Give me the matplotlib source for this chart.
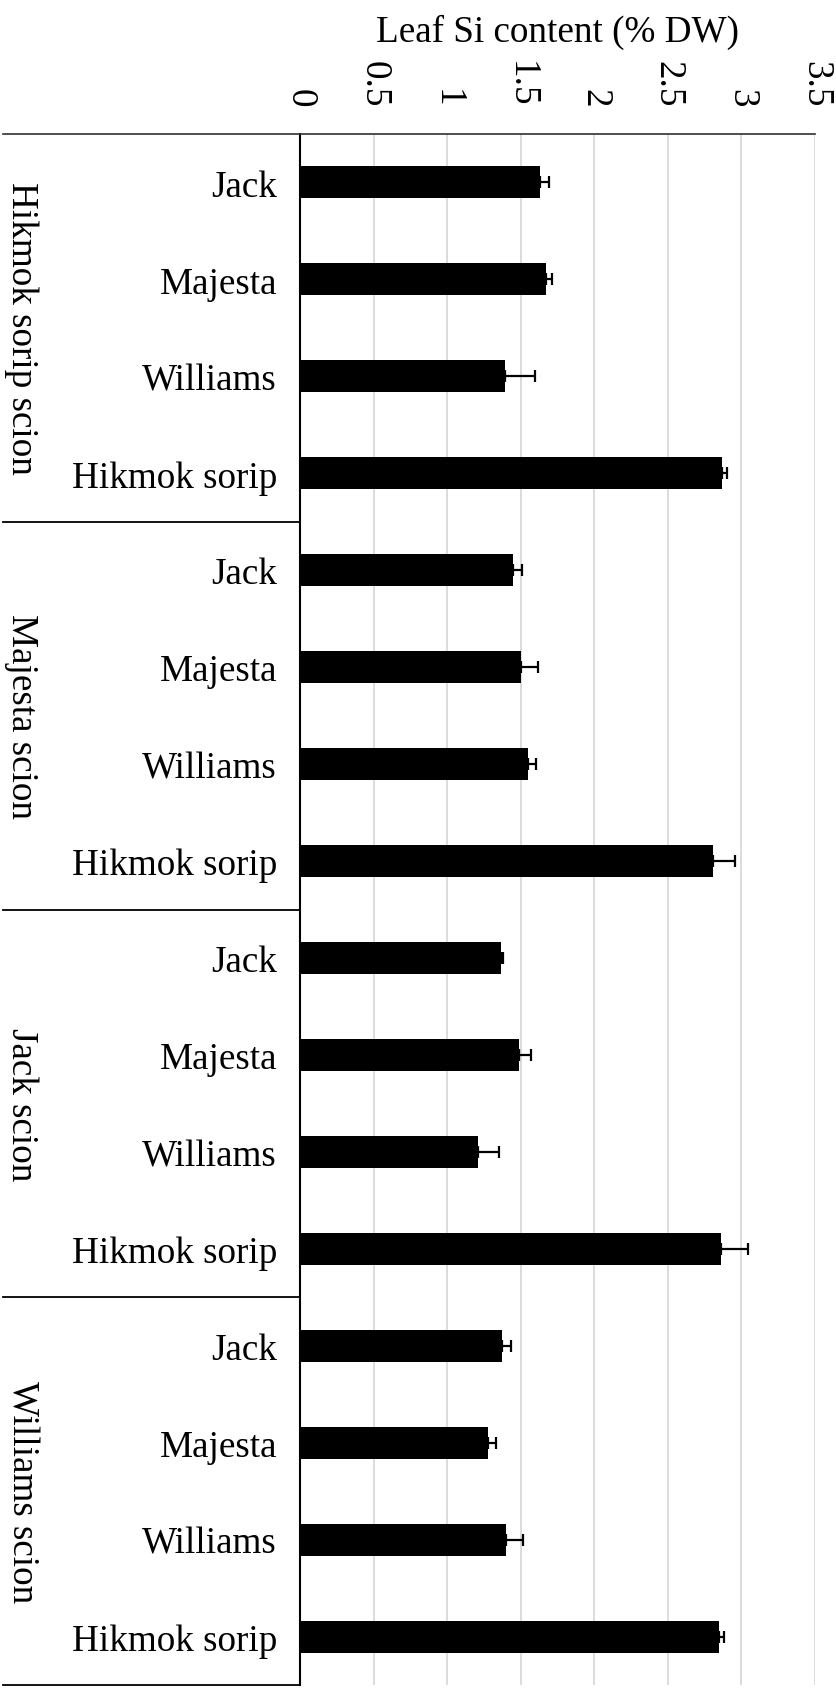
import numpy as np
import matplotlib
matplotlib.use("Agg")
import matplotlib.pyplot as plt

plt.rcParams['font.family'] = ['Liberation Serif', 'DejaVu Serif']

# rootstock cultivars within each scion group, top to bottom
rootstocks = ["Jack", "Majesta", "Williams", "Hikmok sorip"]
scions = ["Hikmok sorip scion", "Majesta scion", "Jack scion", "Williams scion"]

# leaf Si content (% DW), one row per scion, columns follow rootstocks
si_mean = [
    [1.63, 1.67, 1.39, 2.87],
    [1.445, 1.50, 1.55, 2.81],
    [1.365, 1.49, 1.21, 2.86],
    [1.37, 1.28, 1.40, 2.85],
]
si_err = [
    [0.06, 0.04, 0.21, 0.03],
    [0.065, 0.115, 0.057, 0.143],
    [0.012, 0.077, 0.14, 0.188],
    [0.063, 0.052, 0.113, 0.034],
]
xticks = [0, 0.5, 1, 1.5, 2, 2.5, 3, 3.5]
xtick_labels = ["0", "0.5", "1", "1.5", "2", "2.5", "3", "3.5"]

vals = np.array(si_mean).ravel()
errs = np.array(si_err).ravel()
labels = rootstocks * len(scions)
ypos = np.arange(len(vals))

W, H = 836, 1690
fig = plt.figure(figsize=(W / 100, H / 100), dpi=100)
ax = fig.add_axes([300 / W, 1 - 1686 / H, 515 / W, (1686 - 135) / H])

ax.barh(ypos, vals, height=0.33, color="black", zorder=3)
ax.errorbar(vals, ypos, xerr=[np.zeros_like(errs), errs], fmt="none",
            ecolor="black", elinewidth=1.6, capsize=4.3, capthick=1.6, zorder=4)

ax.set_xlim(0, 3.5)
ax.set_ylim(len(vals) - 0.5, -0.5)

ax.set_xticks(xticks)
ax.set_xticklabels(xtick_labels, rotation=-90)
ax.xaxis.tick_top()
ax.tick_params(axis="x", length=0, pad=20, labelsize=26.7)
ax.grid(axis="x", color="#d9d9d9", linewidth=1.3, zorder=0)

ax.set_yticks(ypos)
ax.set_yticklabels(labels)
ax.tick_params(axis="y", length=0, pad=16.5, labelsize=26.7)

for side in ["right", "bottom", "top"]:
    ax.spines[side].set_visible(False)
ax.spines["left"].set_linewidth(1.5)
ax.spines["left"].set_color("black")

# group separators and scion labels in the left margin
ytr = ax.get_yaxis_transform()
x_left = (3 - 300) / 515
ax.plot([x_left, 1], [-0.5, -0.5], transform=ytr, color="#303030",
        linewidth=1.2, clip_on=False, zorder=5)
for k in range(1, len(scions) + 1):
    yb = k * len(rootstocks) - 0.5
    ax.plot([x_left, 0], [yb, yb], transform=ytr, color="black",
            linewidth=1.3, clip_on=False, zorder=5)
for k, name in enumerate(scions):
    yc = k * len(rootstocks) + (len(rootstocks) - 1) / 2
    ax.text((21.5 - 300) / 515, yc, name, transform=ytr, rotation=-90,
            ha="center", va="center", fontsize=26.7)

fig.text(557.5 / W, 1 - 42 / H, "Leaf Si content (% DW)", ha="center",
         va="baseline", fontsize=26.7)

fig.savefig("out.png", dpi=100)
